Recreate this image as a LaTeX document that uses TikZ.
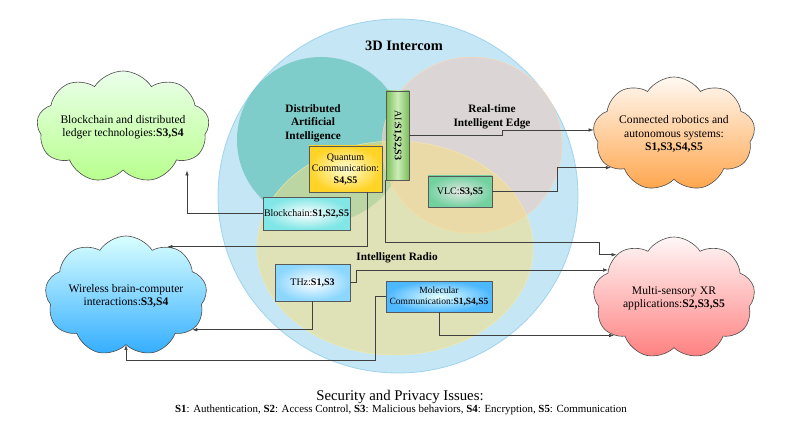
\documentclass[tikz,border=0pt]{standalone}
\usepackage{fontspec}
\setmainfont{Liberation Serif}
\usetikzlibrary{shapes.symbols,arrows.meta}

\definecolor{intercom}{HTML}{C5E6F4}
\definecolor{intercomline}{HTML}{9FD3EE}
\definecolor{daizone}{HTML}{45B9A9}
\definecolor{edgezone}{HTML}{E7CFC9}
\definecolor{radiozone}{HTML}{F9E07C}
\definecolor{aigreen}{RGB}{120,192,88}
\definecolor{aipale}{RGB}{205,236,185}

\begin{document}
\begin{tikzpicture}[x=1pt, y=-1pt,
    secbox/.style={rectangle, draw=black!65, line width=0.8pt, inner sep=1pt, align=center, font=\fontsize{10}{11.5}\selectfont},
    appcloud/.style={cloud, cloud puffs=9, cloud puff arc=115, cloud ignores aspect, draw=black!70, line width=0.6pt, align=center, inner sep=0pt, minimum width=162pt, minimum height=112pt, font=\fontsize{11.6}{13.5}\selectfont},
    zonelabel/.style={align=center, font=\fontsize{11.3}{13.5}\selectfont\bfseries},
    link/.style={-{Latex[length=5pt,width=3.5pt]}, draw=black!75, line width=0.6pt}]

\useasboundingbox (0,0) rectangle (797,422);
\fill[white] (0,0) rectangle (797,422);

\path[fill=intercom, draw=intercomline, line width=0.8pt] (398,196) ellipse [x radius=180, y radius=177];
\path[fill=daizone, fill opacity=0.55] (321,140) ellipse [x radius=84, y radius=83];
\path[fill=edgezone, fill opacity=0.7, draw=orange!30] (472,145) ellipse [x radius=90, y radius=88];
\path[fill=radiozone, fill opacity=0.5, draw=radiozone!70] (395,248) ellipse [x radius=138, y radius=107];

\node[font=\fontsize{14.4}{16}\selectfont\bfseries] (title) at (404,46) {3D Intercom};
\node[zonelabel] (dai) at (313,123) {Distributed\\Artificial\\Intelligence};
\node[zonelabel] (rie) at (492,117) {Real-time\\Intelligent Edge};
\node[zonelabel] (ir) at (397,258) {Intelligent Radio};

\node[secbox, minimum width=23pt, minimum height=89pt, left color=aigreen, right color=aigreen, middle color=aipale] (ai) at (397.5,135.5) {\rotatebox{-90}{AI:\textbf{S1,S2,S3}}};
\node[secbox, minimum width=73pt, minimum height=46pt, inner color=yellow!15, outer color=yellow!60!orange!85] (quantum) at (345.5,169) {Quantum\\Communication:\\\textbf{S4,S5}};
\node[secbox, minimum width=85pt, minimum height=33pt, inner color=white, outer color=teal!40!cyan!50] (bcbox) at (306.5,213.5) {Blockchain:\textbf{S1,S2,S5}};
\node[secbox, minimum width=64pt, minimum height=31pt, inner color=green!10!gray!20, outer color=green!35!teal!55] (vlc) at (460,191.5) {VLC:\textbf{S3,S5}};
\node[secbox, minimum width=75pt, minimum height=37pt, inner color=white, outer color=blue!35!cyan!45] (thz) at (312.5,282.5) {THz:\textbf{S1,S3}};
\node[secbox, minimum width=106pt, minimum height=31pt, inner color=cyan!10, outer color=blue!40!cyan!70, font=\fontsize{9.5}{10.8}\selectfont] (mol) at (439,296.5) {Molecular\\Communication:\textbf{S1,S4,S5}};

\node[appcloud, top color=green!8, bottom color=green!50!lime!45] (cbc) at (123,127) {Blockchain and distributed\\ledger technologies:\textbf{S3,S4}};
\node[appcloud, minimum height=114pt, top color=orange!5, bottom color=orange!70] (crob) at (674,134) {Connected robotics and\\autonomous systems:\\\textbf{S1,S3,S4,S5}};
\node[appcloud, minimum height=120pt, top color=cyan!15, bottom color=cyan!60!blue!80] (cbci) at (126,296) {Wireless brain-computer\\interactions:\textbf{S3,S4}};
\node[appcloud, minimum height=122pt, top color=red!3, bottom color=red!50] (cxr) at (674,298) {Multi-sensory XR\\applications:\textbf{S2,S3,S5}};

\node[font=\fontsize{14.8}{16}\selectfont] (spi) at (400,397) {Security and Privacy Issues:};
\node[font=\fontsize{10.9}{12}\selectfont] (spl) at (401,410) {\textbf{S1}: Authentication, \textbf{S2}: Access Control, \textbf{S3}: Malicious behaviors, \textbf{S4}: Encryption, \textbf{S5}: Communication};

\draw[link] (bcbox.west) -| ([xshift=64pt]cbc.south);
\draw[link] (ai.east) -- ++(93,0) |- ([yshift=4pt]crob.west);
\draw[link] (vlc.east) -- ++(65,0) |- (crob.208);
\draw[link] (ai.south west) -- ++(0,62) -- ++(214,0) |- (cxr.143);
\draw[link] (thz.east) -- ++(6,0) |- (cxr.157);
\draw[link] (thz.south) |- (cbci.333);
\draw[link] ([xshift=22pt]quantum.south) |- (cbci.50);
\draw[link] (mol.west) -- ++(-10,0) -- ++(0,64) -| (cbci.south);
\draw[link] (mol.south) |- (cxr.212);
\end{tikzpicture}
\end{document}
